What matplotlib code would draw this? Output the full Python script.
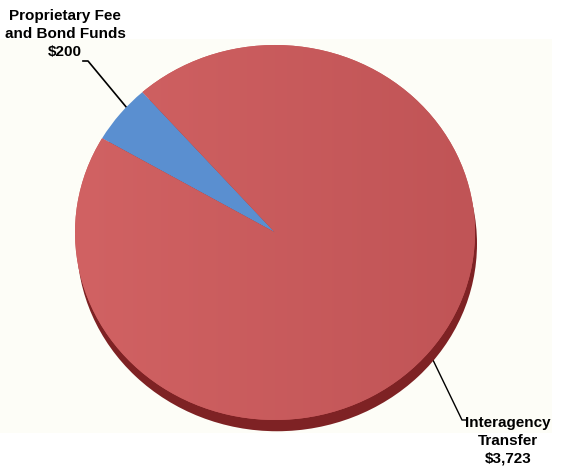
import matplotlib
matplotlib.use("Agg")
from matplotlib import pyplot as plt
from matplotlib.patches import Rectangle, Ellipse
from matplotlib.colors import LinearSegmentedColormap
import numpy as np

# data
labels = ["Proprietary Fee\nand Bond Funds", "Interagency\nTransfer"]
amounts = [200, 3723]
value_text = ["$200", "$3,723"]
colors = ["#5a8fd0", "#c85a5c"]

plt.rcParams['font.family'] = ['Liberation Sans', 'DejaVu Sans']

fig = plt.figure(figsize=(5.61, 4.75), dpi=100)
W, H = 561, 475

# background panel + labels, in pixel coordinates
bg = fig.add_axes([0, 0, 1, 1])
bg.set_xlim(0, W)
bg.set_ylim(H, 0)
bg.axis('off')
bg.add_patch(Rectangle((0, 39), 552, 394, facecolor="#fdfdf7", edgecolor="none"))

# pie axes (slightly squashed to look tilted)
px0, px1, py0, py1 = 75, 475, 45, 420
pax = fig.add_axes([px0 / W, 1 - py1 / H, (px1 - px0) / W, (py1 - py0) / H])
pax.add_patch(Ellipse((0.01, -0.06), 2, 2, facecolor="#7e2224", edgecolor="none",
                      clip_on=False, zorder=0))
wedges, _ = pax.pie(amounts, colors=colors, startangle=131.5, counterclock=True,
                    radius=1, wedgeprops=dict(linewidth=0))

# soft left-to-right shading on the big slice
shade = LinearSegmentedColormap.from_list("shade", ["#d16263", "#c05456"])
grad = np.linspace(0, 1, 256).reshape(1, -1)
im = pax.imshow(grad, cmap=shade, extent=(-1, 1, -1, 1), aspect='auto', zorder=2)
im.set_clip_path(wedges[1])

pax.set_aspect('auto')
pax.set_xlim(-1, 1)
pax.set_ylim(-1, 1)
pax.axis('off')

# labels with leader lines
txt_kw = dict(fontsize=11, fontweight='bold', ha='center', va='center',
              linespacing=1.33, color='black')
bg.text(65, 34, labels[0] + "\n" + value_text[0], **txt_kw)
bg.plot([83, 88, 127], [61, 61, 108], color='black', lw=1.2)

bg.text(508, 441, labels[1] + "\n" + value_text[1], **txt_kw)
bg.plot([432, 462, 467], [358, 420, 420], color='black', lw=1.0)

fig.savefig("out.png", dpi=100)
